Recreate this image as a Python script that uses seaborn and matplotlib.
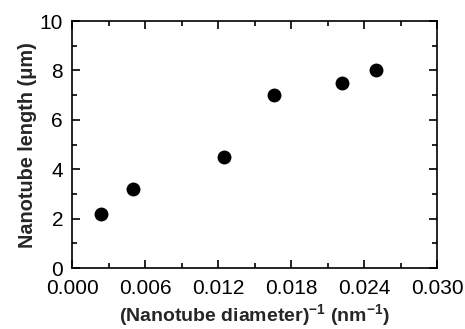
"""
Nanotube length vs inverse nanotube diameter, redrawn with seaborn.
"""

import matplotlib
matplotlib.use('Agg')
import matplotlib.pyplot as plt
from matplotlib.ticker import MultipleLocator
import pandas as pd
import seaborn as sns

# data
inv_diameter = [0.00238, 0.0050, 0.0125, 0.0166, 0.0222, 0.0250]
length_um = [2.2, 3.2, 4.5, 7.0, 7.5, 8.0]

x_ticks = [0.000, 0.006, 0.012, 0.018, 0.024, 0.030]
x_tick_labels = ['0.000', '0.006', '0.012', '0.018', '0.024', '0.030']
y_ticks = [0, 2, 4, 6, 8, 10]


def lengthPlot():
    sns.set_style('ticks')
    plt.rcParams['font.family'] = ['Liberation Sans', 'DejaVu Sans']
    plt.rcParams['mathtext.fontset'] = 'custom'
    plt.rcParams['mathtext.rm'] = 'Liberation Sans:bold'
    plt.rcParams['mathtext.bf'] = 'Liberation Sans:bold'

    df = pd.DataFrame({'x': inv_diameter, 'y': length_um})

    f, ax = plt.subplots(figsize=(4.65, 3.29), dpi=100)
    f.subplots_adjust(left=0.155, right=0.94, top=0.936, bottom=0.185)

    sns.scatterplot(x='x', y='y', data=df, color='black', s=100, edgecolor='black',
                    linewidth=0, ax=ax, legend=False)

    ax.set_xlim(0, 0.030)
    ax.set_ylim(0, 10)
    ax.set_xticks(x_ticks)
    ax.set_xticklabels(x_tick_labels)
    ax.set_yticks(y_ticks)
    ax.xaxis.set_minor_locator(MultipleLocator(0.003))
    ax.yaxis.set_minor_locator(MultipleLocator(1))

    ax.tick_params(which='both', direction='in', top=True, right=True, width=1.2,
                   colors='black', labelsize=15)
    ax.tick_params(axis='x', pad=8)
    ax.tick_params(axis='y', pad=6.5)
    ax.tick_params(which='major', length=6)
    ax.tick_params(which='minor', length=3.5)
    for s in ax.spines.values():
        s.set_linewidth(1.2)
        s.set_color('black')

    ax.set_xlabel(r'(Nanotube diameter)$^{-1}$ (nm$^{-1}$)', fontsize=14,
                  fontweight='bold', labelpad=3)
    ax.set_ylabel('Nanotube length (\u03bcm)', fontsize=14.3, fontweight='bold', labelpad=2)

    f.savefig('out.png', dpi=100)


if __name__ == '__main__':
    lengthPlot()
